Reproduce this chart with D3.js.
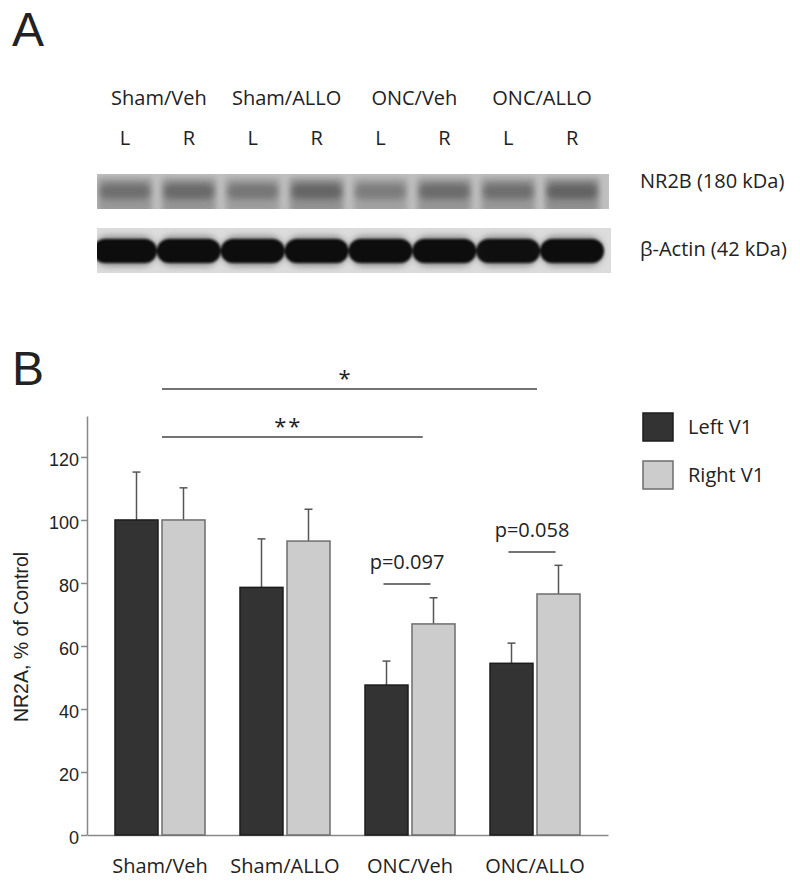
<!DOCTYPE html>
<html>
<head>
<meta charset="utf-8">
<script src="https://cdn.jsdelivr.net/npm/d3@7"></script>
<style>
  body { margin: 0; background: #fff; }
  svg { display: block; }
  text { fill: #222; }
</style>
</head>
<body>
<svg id="chart" width="800" height="886"></svg>
<script>
// ---- data ----
const groups = ['Sham/Veh', 'Sham/ALLO', 'ONC/Veh', 'ONC/ALLO'];
const sides = ['L', 'R'];
const seriesNames = ['Left V1', 'Right V1'];
const leftMean = [100, 78.6, 47.6, 54.5];
const leftErr = [15.2, 15.4, 7.6, 6.4];
const rightMean = [100, 93.3, 67.0, 76.5];
const rightErr = [10.2, 10.1, 8.3, 9.1];
const yTicks = [0, 20, 40, 60, 80, 100, 120];

// blot lanes (L/R per group), rough band darkness 0..1
const nr2bDensity = [0.55, 0.62, 0.45, 0.68, 0.38, 0.6, 0.55, 0.72];
const actinDensity = [1, 1, 1, 1, 1, 1, 0.98, 1];
const blotLabels = ['NR2B (180 kDa)', 'β-Actin (42 kDa)'];

// brackets, y in % units
const sigBrackets = [
  { from: 'Sham/Veh', to: 'ONC/ALLO', endFrac: 0, y: 141.6, label: '*' },
  { from: 'Sham/Veh', to: 'ONC/Veh', endFrac: 0.25, y: 126.3, label: '**' }
];
const pBrackets = [
  { group: 'ONC/Veh', y: 79.7, label: 'p=0.097' },
  { group: 'ONC/ALLO', y: 89.8, label: 'p=0.058' }
];

const svg = d3.select('#chart');
const sans = "'Open Sans', sans-serif";
const arial = "'Liberation Sans', Arial, sans-serif";

// ===== Panel A : blot =====
svg.append('text').attr('x', 12).attr('y', 46)
  .attr('font-family', arial).attr('font-size', 48).text('A');

const lanes = d3.range(8);
const laneX = d3.scaleBand().domain(lanes).range([93, 604]);
const stripX = [97, 609];

const defs = svg.append('defs');
defs.append('filter').attr('id', 'blurSoft').attr('x', '-20%').attr('y', '-50%')
  .attr('width', '140%').attr('height', '200%')
  .append('feGaussianBlur').attr('stdDeviation', 3);
defs.append('filter').attr('id', 'blurHard').attr('x', '-10%').attr('y', '-50%')
  .attr('width', '120%').attr('height', '200%')
  .append('feGaussianBlur').attr('stdDeviation', 1.3);

// group and lane labels
svg.append('g').selectAll('text').data(groups).join('text')
  .attr('x', (d, i) => (laneX(i * 2) + laneX(i * 2 + 1) + laneX.bandwidth()) / 2 + 2)
  .attr('y', 105).attr('text-anchor', 'middle')
  .attr('font-family', sans).attr('font-size', 20).text(d => d);

svg.append('g').selectAll('text').data(lanes).join('text')
  .attr('x', d => laneX(d) + laneX.bandwidth() / 2)
  .attr('y', 145).attr('text-anchor', 'middle')
  .attr('font-family', sans).attr('font-size', 20).text(d => sides[d % 2]);

// NR2B strip
const nrTop = 174, nrH = 35;
defs.append('clipPath').attr('id', 'clipNr').append('rect')
  .attr('x', stripX[0]).attr('y', nrTop).attr('width', stripX[1] - stripX[0]).attr('height', nrH);
const nr = svg.append('g').attr('clip-path', 'url(#clipNr)');
nr.append('rect').attr('x', stripX[0]).attr('y', nrTop)
  .attr('width', stripX[1] - stripX[0]).attr('height', nrH).attr('fill', '#c0c0c0');
const hazeColor = d3.scaleLinear().domain([0, 1]).range(['#b4b4b4', '#808080']);
const bandColor = d3.scaleLinear().domain([0, 1]).range(['#909090', '#3c3c3c']);
nr.append('g').attr('filter', 'url(#blurSoft)').selectAll('rect').data(nr2bDensity).join('rect')
  .attr('x', (d, i) => laneX(i) + 5).attr('width', laneX.bandwidth() - 10)
  .attr('y', nrTop + 4).attr('height', nrH)
  .attr('fill', d => hazeColor(d));
nr.append('g').attr('filter', 'url(#blurSoft)').selectAll('rect').data(nr2bDensity).join('rect')
  .attr('x', (d, i) => laneX(i) + 7).attr('width', laneX.bandwidth() - 14)
  .attr('y', nrTop + 10).attr('height', 15).attr('rx', 6)
  .attr('fill', d => bandColor(d)).attr('opacity', 0.75);

// beta-actin strip
const acTop = 228, acH = 45;
defs.append('clipPath').attr('id', 'clipAc').append('rect')
  .attr('x', stripX[0]).attr('y', acTop).attr('width', stripX[1] - stripX[0] + 2).attr('height', acH);
const ac = svg.append('g').attr('clip-path', 'url(#clipAc)');
ac.append('rect').attr('x', stripX[0]).attr('y', acTop)
  .attr('width', stripX[1] - stripX[0] + 2).attr('height', acH).attr('fill', '#dcdcdc');
ac.append('g').attr('filter', 'url(#blurSoft)').selectAll('rect').data(actinDensity).join('rect')
  .attr('x', (d, i) => laneX(i) + 1).attr('width', laneX.bandwidth() - 2)
  .attr('y', acTop + 8).attr('height', 30).attr('rx', 14)
  .attr('fill', '#8a8a8a');
ac.append('g').attr('filter', 'url(#blurHard)').selectAll('rect').data(actinDensity).join('rect')
  .attr('x', (d, i) => laneX(i)).attr('width', laneX.bandwidth())
  .attr('y', acTop + 11).attr('height', 24).attr('rx', 12)
  .attr('fill', '#111').attr('opacity', d => d);

svg.append('g').selectAll('text').data(blotLabels).join('text')
  .attr('x', 640).attr('y', (d, i) => i === 0 ? 187.5 : 256)
  .attr('font-family', sans).attr('font-size', 20).text(d => d);

// ===== Panel B : bar chart =====
svg.append('text').attr('x', 12).attr('y', 385)
  .attr('font-family', arial).attr('font-size', 48).text('B');

const x = d3.scaleBand().domain(groups).range([87, 608])
  .paddingInner(0.28).paddingOuter(0.224);
const xs = d3.scaleBand().domain(sides).range([0, x.bandwidth()]).paddingInner(0.085);
const y = d3.scaleLinear().domain([0, 133]).range([835, 416]);

const axisColor = '#888';

// y axis
const yAxis = svg.append('g').attr('transform', 'translate(87,0)')
  .call(d3.axisLeft(y).tickValues(yTicks).tickSize(6).tickSizeOuter(0).tickPadding(2));
yAxis.select('.domain').attr('stroke', axisColor).attr('stroke-width', 1.5);
yAxis.selectAll('.tick line').attr('stroke', axisColor).attr('stroke-width', 1.5);
yAxis.selectAll('.tick text').attr('font-family', arial).attr('font-size', 18)
  .attr('fill', '#222').attr('dy', '0.45em');

// x axis
const xAxis = svg.append('g').attr('transform', `translate(0,${y(0)})`)
  .call(d3.axisBottom(x).tickSize(0).tickSizeOuter(0).tickPadding(24));
xAxis.select('.domain').attr('stroke', axisColor).attr('stroke-width', 1.5);
xAxis.selectAll('.tick text').attr('font-family', sans).attr('font-size', 20).attr('fill', '#222');

svg.append('text')
  .attr('transform', 'translate(28,637) rotate(-90)')
  .attr('text-anchor', 'middle')
  .attr('font-family', arial).attr('font-size', 19.5)
  .text('NR2A, % of Control');

// bars
const barData = [];
groups.forEach((g, i) => {
  barData.push({ group: g, side: 'L', mean: leftMean[i], err: leftErr[i] });
  barData.push({ group: g, side: 'R', mean: rightMean[i], err: rightErr[i] });
});
const fill = { L: '#333333', R: '#cccccc' };
const stroke = { L: '#1c1c1c', R: '#6e6e6e' };
const barX = d => x(d.group) + xs(d.side);

// error bars (drawn behind bars)
const eb = svg.append('g').attr('stroke', '#555').attr('stroke-width', 1.5);
eb.selectAll('line.v').data(barData).join('line').attr('class', 'v')
  .attr('x1', d => barX(d) + xs.bandwidth() / 2).attr('x2', d => barX(d) + xs.bandwidth() / 2)
  .attr('y1', d => y(d.mean)).attr('y2', d => y(d.mean + d.err));
eb.selectAll('line.c').data(barData).join('line').attr('class', 'c')
  .attr('x1', d => barX(d) + xs.bandwidth() / 2 - 4).attr('x2', d => barX(d) + xs.bandwidth() / 2 + 4)
  .attr('y1', d => y(d.mean + d.err)).attr('y2', d => y(d.mean + d.err));

svg.append('g').selectAll('rect').data(barData).join('rect')
  .attr('x', barX).attr('width', xs.bandwidth())
  .attr('y', d => y(d.mean)).attr('height', d => y(0) - y(d.mean))
  .attr('fill', d => fill[d.side]).attr('stroke', d => stroke[d.side]).attr('stroke-width', 1.5);

// significance brackets
const sg = svg.append('g');
sigBrackets.forEach(b => {
  const x1 = x(b.from) + xs('R');
  const x2 = x(b.to) + xs('R') + b.endFrac * xs.bandwidth();
  sg.append('line').attr('x1', x1).attr('x2', x2).attr('y1', y(b.y)).attr('y2', y(b.y))
    .attr('stroke', '#444').attr('stroke-width', 1.5);
  sg.append('text').attr('x', (x1 + x2) / 2 - 4).attr('y', y(b.y) - 3)
    .attr('text-anchor', 'middle').attr('font-family', sans).attr('font-size', 22)
    .attr('letter-spacing', 2).text(b.label);
});
pBrackets.forEach(b => {
  const x1 = x(b.group) + xs('L') + xs.bandwidth() / 2 - 3;
  const x2 = x(b.group) + xs('R') + xs.bandwidth() / 2 - 3;
  sg.append('line').attr('x1', x1).attr('x2', x2).attr('y1', y(b.y)).attr('y2', y(b.y))
    .attr('stroke', '#444').attr('stroke-width', 1.5);
  sg.append('text').attr('x', (x1 + x2) / 2).attr('y', y(b.y) - 15)
    .attr('text-anchor', 'middle').attr('font-family', sans).attr('font-size', 20)
    .text(b.label);
});

// legend
const legend = svg.append('g').attr('transform', 'translate(643,413)');
const row = legend.selectAll('g').data(seriesNames).join('g')
  .attr('transform', (d, i) => `translate(0,${i * 48})`);
row.append('rect').attr('width', 30).attr('height', 28)
  .attr('fill', (d, i) => fill[sides[i]]).attr('stroke', (d, i) => stroke[sides[i]]).attr('stroke-width', 1.5);
row.append('text').attr('x', 45).attr('y', 14).attr('dy', '0.36em')
  .attr('font-family', sans).attr('font-size', 20).text(d => d);
</script>
</body>
</html>
